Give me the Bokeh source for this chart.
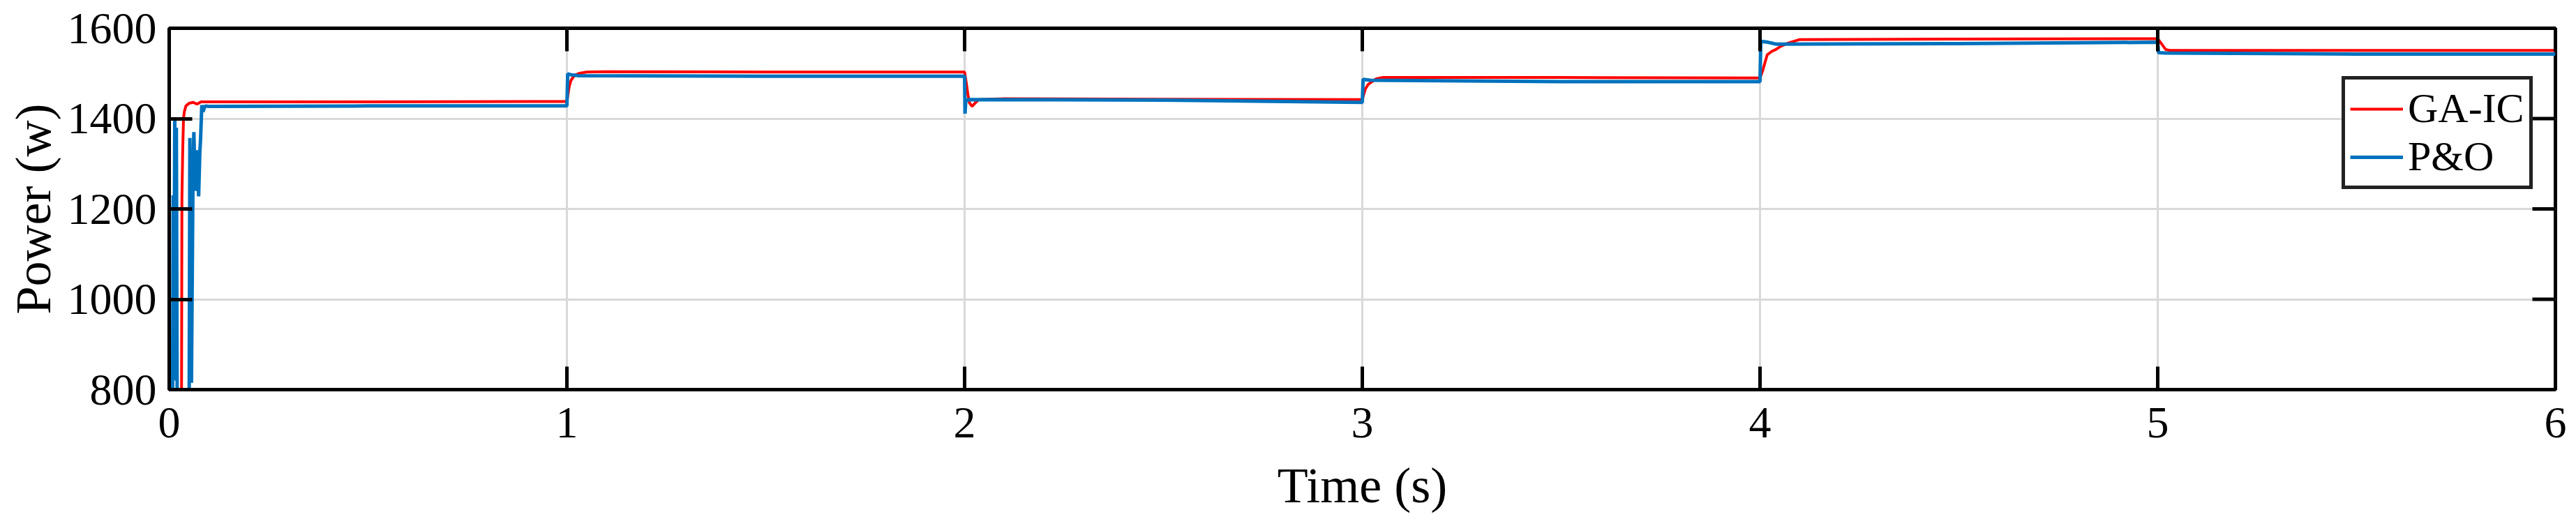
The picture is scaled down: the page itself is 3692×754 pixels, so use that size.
from bokeh.plotting import figure
from bokeh.models import Range1d, Legend, LegendItem, FixedTicker
from bokeh.embed import file_html
from bokeh.resources import INLINE

# ---------------- data ----------------
x_ticks = [0, 1, 2, 3, 4, 5, 6]
y_ticks = [800, 1000, 1200, 1400, 1600]
x_min, x_max = 0, 6
y_min, y_max = 800, 1600

ga_ic_t = [0, 0.030, 0.031, 0.032, 0.034, 0.036, 0.038, 0.042, 0.05, 0.06, 0.07, 0.08, 0.5, 1.0,
           1.003, 1.006, 1.01, 1.015, 1.02, 1.03, 1.05, 1.1, 1.5, 2.0,
           2.004, 2.008, 2.012, 2.019, 2.025, 2.035, 2.1, 2.5, 3.0,
           3.004, 3.008, 3.015, 3.025, 3.035, 3.05, 3.5, 4.0,
           4.007, 4.018, 4.03, 4.04, 4.05, 4.07, 4.1, 4.5, 5.0,
           5.01, 5.02, 5.03, 5.5, 6.0]
ga_ic_p = [0, 700, 760, 1222, 1330, 1400, 1415, 1428, 1434, 1436, 1432, 1437, 1437, 1438,
           1455, 1472, 1484, 1491, 1496, 1500, 1503, 1504, 1503, 1503,
           1480, 1455, 1435, 1427, 1433, 1442, 1444, 1443, 1442,
           1455, 1466, 1476, 1482, 1488, 1491, 1491, 1490,
           1507, 1541, 1549, 1553, 1559, 1567, 1575, 1576, 1577,
           1565, 1553, 1551, 1551, 1551]

po_t = [0, 0.008, 0.010, 0.012, 0.014, 0.016, 0.018, 0.020, 0.022, 0.030, 0.050,
        0.052, 0.054, 0.056, 0.060, 0.062, 0.064, 0.066, 0.070, 0.074, 0.077, 0.079,
        0.082, 0.085, 0.09, 0.1, 0.5, 1.0,
        1.002, 1.01, 1.03, 1.5, 2.0,
        2.001, 2.003, 2.01, 2.5, 3.0,
        3.002, 3.02, 3.5, 4.0,
        4.002, 4.02, 4.04, 4.5, 5.0,
        5.002, 5.02, 5.5, 6.0]
po_p = [0, 600, 1230, 900, 1400, 820, 1380, 790, 760, 600, 700,
        1357, 1073, 815, 1290, 1370, 1300, 1240, 1330, 1228, 1325, 1357,
        1430, 1415, 1428, 1427, 1428, 1428,
        1499, 1497, 1495, 1494, 1494,
        1411, 1440, 1442, 1441, 1436,
        1487, 1485, 1482, 1482,
        1571, 1569, 1565, 1566, 1569,
        1546, 1545, 1543, 1543]

FONT = "Liberation Serif"

p = figure(width=3692, height=754, output_backend="svg", toolbar_location=None,
           x_range=Range1d(x_min, x_max), y_range=Range1d(y_min, y_max),
           min_border_left=242, min_border_right=30, min_border_top=40, min_border_bottom=196,
           background_fill_color="white", border_fill_color="white")
p.outline_line_color = "black"
p.outline_line_width = 5
p.outline_line_alpha = 1.0

p.xgrid.ticker = FixedTicker(ticks=x_ticks)
p.ygrid.ticker = FixedTicker(ticks=y_ticks)
for g in (p.xgrid, p.ygrid):
    g.grid_line_color = "#d9d9d9"
    g.grid_line_width = 3

r_red = p.line(ga_ic_t, ga_ic_p, line_color="#FF0000", line_width=4)
r_blue = p.line(po_t, po_p, line_color="#0072BD", line_width=5)

# inward ticks on the top and right edges
p.ray(x=x_ticks, y=[y_max] * len(x_ticks), length=33, length_units="screen",
      angle=-90, angle_units="deg", line_color="black", line_width=5)
p.ray(x=[x_max] * len(y_ticks), y=y_ticks, length=33, length_units="screen",
      angle=180, angle_units="deg", line_color="black", line_width=5)

for ax in (p.xaxis[0], p.yaxis[0]):
    ax.axis_line_width = 5
    ax.axis_line_color = "black"
    ax.major_tick_line_width = 5
    ax.major_tick_line_color = "black"
    ax.major_tick_in = 33
    ax.major_tick_out = 0
    ax.minor_tick_line_color = None
    ax.major_label_text_font = FONT
    ax.major_label_text_font_size = "64px"
    ax.major_label_text_color = "black"
    ax.axis_label_text_font = FONT
    ax.axis_label_text_font_size = "72px"
    ax.axis_label_text_font_style = "normal"
    ax.axis_label_text_color = "black"

p.xaxis[0].ticker = FixedTicker(ticks=x_ticks)
p.yaxis[0].ticker = FixedTicker(ticks=y_ticks)
p.xaxis[0].axis_label = "Time (s)"
p.yaxis[0].axis_label = "Power (w)"
p.xaxis[0].major_label_standoff = 26
p.xaxis[0].axis_label_standoff = 26
p.yaxis[0].major_label_standoff = 18
p.yaxis[0].axis_label_standoff = 6

legend = Legend(items=[LegendItem(label="GA-IC", renderers=[r_red]),
                       LegendItem(label="P&O", renderers=[r_blue])],
                location=(3114, 287))
legend.margin = 0
legend.padding = 7
legend.spacing = 0
legend.label_text_font = FONT
legend.label_text_font_size = "60px"
legend.label_text_color = "black"
legend.label_standoff = 7
legend.glyph_width = 76
legend.glyph_height = 60
legend.label_height = 60
legend.border_line_color = "#222222"
legend.border_line_width = 5
legend.border_line_alpha = 1.0
legend.background_fill_color = "white"
legend.background_fill_alpha = 1.0
p.add_layout(legend, "center")

open("out.html", "w").write(file_html(p, INLINE))
